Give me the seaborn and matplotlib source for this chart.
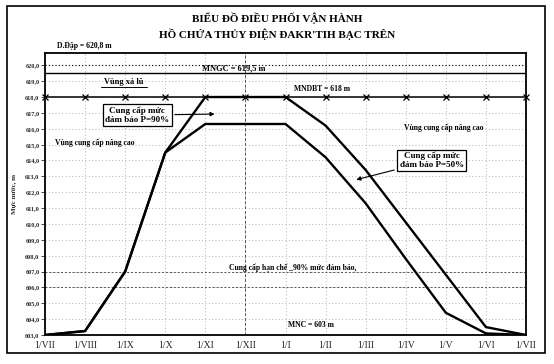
import matplotlib
matplotlib.use("Agg")
import matplotlib.pyplot as plt
import seaborn as sns
import pandas as pd
from matplotlib.patches import Rectangle

# Data
MONTHS = ["1/VII", "1/VIII", "1/IX", "1/X", "1/XI", "1/XII", "1/I",
          "1/II", "1/III", "1/IV", "1/V", "1/VI", "1/VII"]
UPPER_P50 = [603.0, 603.25, 607.0, 614.5, 618.0, 618.0, 618.0,
             616.2, 613.4, 610.1, 606.8, 603.5, 603.0]
LOWER_P90 = [603.0, 603.25, 607.0, 614.5, 616.3, 616.3, 616.3,
             614.2, 611.3, 607.8, 604.4, 603.1, 603.0]
MNDBT = [618.0, 618.0, 618.0, 618.0, 618.0, 618.0, 618.0,
         618.0, 618.0, 618.0, 618.0, 618.0, 618.0]
Y_TICKS = [603, 604, 605, 606, 607, 608, 609, 610, 611,
           612, 613, 614, 615, 616, 617, 618, 619, 620]
MNGC = 619.5
TOP_LINE = 620.0
D_DAP = 620.8
MNC = 603.0

sns.set_style("white")
plt.rcParams["font.family"] = ["Liberation Serif", "DejaVu Serif"]

W, H = 554, 364
fig = plt.figure(figsize=(W / 100, H / 100), dpi=100)
ax = fig.add_axes([45 / W, 29 / H, 481 / W, 282.4 / H])

df = pd.DataFrame({"t": range(len(MONTHS)), "upper": UPPER_P50,
                   "lower": LOWER_P90, "mndbt": MNDBT})

# grid
ax.set_xlim(0, 12)
ax.set_ylim(MNC, D_DAP)
ax.set_yticks(Y_TICKS)
ax.set_yticklabels([f"{v:.1f}".replace(".", ",") for v in Y_TICKS])
ax.set_xticks(df["t"])
ax.set_xticklabels(MONTHS)
ax.grid(True, linestyle=(0, (1, 3)), color="#9a9a9a", lw=0.6)
for lv in (606, 607):
    ax.axhline(lv, color="#555555", lw=0.7, ls=(0, (2, 2)), zorder=1)
ax.axvline(5, color="#555555", lw=0.7, ls=(0, (3, 2)), zorder=1)

# reference levels
ax.axhline(TOP_LINE, color="black", lw=0.8, ls=(0, (1, 2)))
ax.axhline(MNGC, color="black", lw=1.0)
sns.lineplot(data=df, x="t", y="mndbt", color="black", lw=1.1, marker="x",
             markersize=5, markeredgewidth=0.9, markeredgecolor="black",
             clip_on=False, ax=ax, zorder=4)

# operating curves
sns.lineplot(data=df, x="t", y="upper", color="black", lw=1.7, ax=ax,
             sort=False, zorder=5)
sns.lineplot(data=df, x="t", y="lower", color="black", lw=1.7, ax=ax,
             sort=False, zorder=5)

for s in ax.spines.values():
    s.set_color("black")
    s.set_linewidth(1.3)

ax.tick_params(axis="y", length=3, width=0.6, labelsize=4.5, pad=1, left=True)
ax.tick_params(axis="x", length=0, labelsize=7, pad=4)
for lab in ax.get_yticklabels():
    lab.set_fontweight("bold")
ax.set_xlabel("")
ax.set_ylabel("Mực nước, m", fontsize=5, fontweight="bold", labelpad=6)

# annotations
bold = dict(fontweight="bold", color="black")
ax.text(0.3, D_DAP + 0.15, "D.Đập = 620,8 m", fontsize=5.5, va="bottom",
        clip_on=False, **bold)
ax.text(4.7, MNGC + 0.02, "MNGC = 619,5 m", fontsize=6, ha="center",
        va="bottom", **bold)
ax.text(1.97, 618.7, "Vùng xả lũ", fontsize=6, ha="center", va="bottom", **bold)
ax.plot([1.4, 2.55], [618.65, 618.65], color="black", lw=0.7)
ax.text(6.9, 618.25, "MNDBT = 618 m", fontsize=5.5, ha="center",
        va="bottom", **bold)
ax.text(0.25, 615.1, "Vùng cung cấp nâng cao", fontsize=5.5, va="center", **bold)
ax.text(8.95, 616.05, "Vùng cung cấp nâng cao", fontsize=5.5, va="center", **bold)
ax.text(4.58, 607.25, "Cung cấp hạn chế _90% mức đảm bảo,", fontsize=5.5,
        va="center", **bold)
ax.text(6.07, 603.35, "MNC = 603 m", fontsize=5.5, va="bottom", **bold)

box = dict(boxstyle="square,pad=0.25", fc="white", ec="black", lw=0.9)
ax.annotate("Cung cấp mức\nđảm bảo P=90%", xy=(4.3, 616.93), xytext=(2.3, 616.85),
            fontsize=6.5, ha="center", va="center", bbox=box,
            arrowprops=dict(arrowstyle="-|>", color="black", lw=0.8,
                            mutation_scale=6), linespacing=1.1, **bold)
ax.annotate("Cung cấp mức\nđảm bảo P=50%", xy=(7.7, 612.75), xytext=(9.65, 614.0),
            fontsize=6.5, ha="center", va="center", bbox=box,
            arrowprops=dict(arrowstyle="-|>", color="black", lw=0.8,
                            mutation_scale=6), linespacing=1.1, **bold)

# title and outer frame
fig.text(0.5, 1 - 18 / H, "BIỂU ĐỒ ĐIỀU PHỐI VẬN HÀNH", ha="center",
         va="center", fontsize=8, **bold)
fig.text(0.5, 1 - 34 / H, "HỒ CHỨA THỦY ĐIỆN ĐAKR'TIH BẠC TRÊN", ha="center",
         va="center", fontsize=8, **bold)
fig.add_artist(Rectangle((7 / W, 11 / H), 538 / W, 347 / H,
                         transform=fig.transFigure, fill=False,
                         ec="black", lw=1.2))

fig.savefig("out.png", dpi=100, facecolor="white")
